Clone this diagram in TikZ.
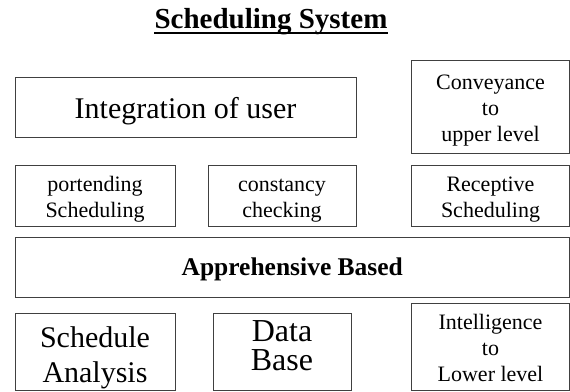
\documentclass[tikz,border=0pt]{standalone}
\usepackage{fontspec}
\setmainfont{Liberation Serif}
\usetikzlibrary{positioning}
% invisible struts to set where the lines sit in a box
\newcommand{\padtop}[1]{\rule{0pt}{#1}}
\newcommand{\padbot}[1]{\rule[-#1]{0pt}{#1}}
\tikzset{
    blk/.style={draw=black!75, line width=0.8pt, align=center, inner sep=0pt},
    smalltxt/.style={font=\fontsize{22}{26}\selectfont},
    bigtxt/.style={font=\fontsize{30}{35}\selectfont},
    boldtxt/.style={font=\fontsize{25.5}{28}\selectfont\bfseries}
}
\begin{document}
\begin{tikzpicture}[x=1pt, y=-1pt]
    \useasboundingbox (0,0) rectangle (570,391);
    % title
    \node[font=\fontsize{29}{34}\selectfont\bfseries, inner sep=0pt, anchor=base] (title) at (271,28) {Scheduling System};
    \draw[line width=1.8pt] ([yshift=-5pt]title.base west) -- ([yshift=-5pt]title.base east);
    % top row
    \node[blk, bigtxt, minimum width=341, minimum height=60] (integ) at (185.5,107)
        {\padtop{30pt}Integration of user\padbot{8pt}};
    \node[blk, smalltxt, minimum width=158, minimum height=93] (convey) at (490.5,106.5)
        {\padtop{24pt}Conveyance\\to\\upper level\padbot{6pt}};
    % second row
    \node[blk, smalltxt, minimum width=160, minimum height=61] (portend) at (95,195.5)
        {\padtop{24pt}portending\\Scheduling\padbot{6pt}};
    \node[blk, smalltxt, minimum width=148, minimum height=61] (constancy) at (282,195.5)
        {\padtop{24pt}constancy\\checking\padbot{6pt}};
    \node[blk, smalltxt, minimum width=158, minimum height=61] (receptive) at (490.5,195.5)
        {\padtop{24pt}Receptive\\Scheduling\padbot{6pt}};
    % wide bar
    \node[blk, boldtxt, minimum width=554.5, minimum height=60] (apprehend) at (292.25,267)
        {\padtop{23pt}Apprehensive Based\padbot{7pt}};
    % bottom row
    \node[blk, bigtxt, minimum width=160, minimum height=77] (schedule) at (95,351.5)
        {\padtop{34pt}Schedule\\Analysis\padbot{8pt}};
    \node[blk, font=\fontsize{32}{29}\selectfont, minimum width=138, minimum height=77] (database) at (282,351.5)
        {\padtop{22pt}Data\\Base\padbot{13pt}};
    \node[blk, smalltxt, minimum width=158, minimum height=87] (intel) at (490.5,346.5)
        {\padtop{24pt}Intelligence\\to\\Lower level\padbot{6pt}};
\end{tikzpicture}
\end{document}
